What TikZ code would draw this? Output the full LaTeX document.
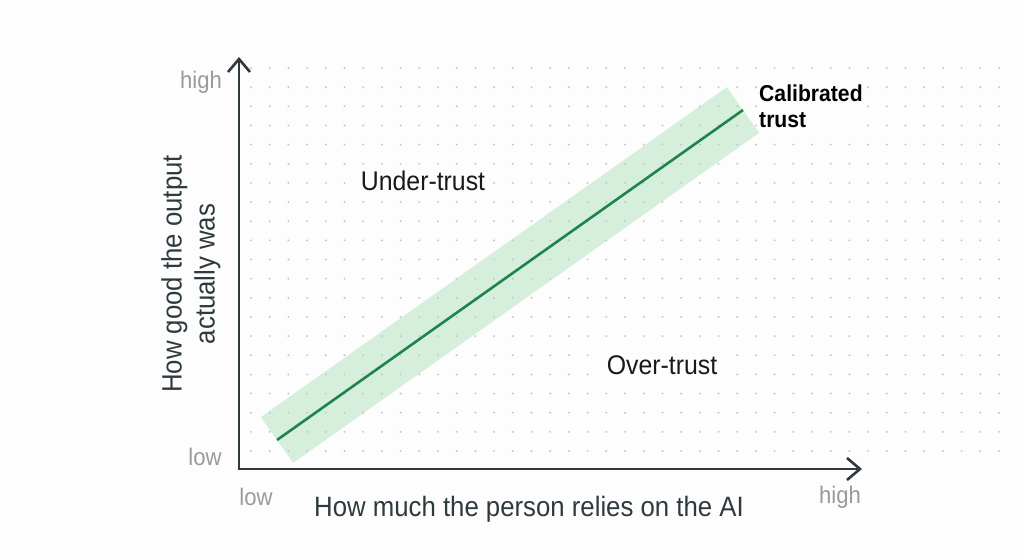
\documentclass[tikz,border=0pt]{standalone}
\usepackage{fontspec}
\setmainfont[FakeStretch=0.92]{Liberation Sans}
\usetikzlibrary{arrows.meta, calc, positioning}
\definecolor{achse}{HTML}{2F3A3F}
\definecolor{gruen}{HTML}{1E8449}
\definecolor{band}{HTML}{D6EFDD}
\definecolor{punkt}{HTML}{C4C8C8}
\definecolor{grau}{HTML}{9A9A9A}
\definecolor{bg}{HTML}{FDFDFD}

\begin{document}
\begin{tikzpicture}[x=1pt, y=-1pt,
        axis/.style={line width=2.6pt, achse, line cap=round,
                     -{Straight Barb[length=13pt, width=22pt]}},
        trend/.style={line width=2.6pt, gruen},
        tick/.style={font=\fontsize{24}{28}\selectfont, text=grau, inner sep=1pt},
        axlabel/.style={font=\fontsize{28}{33}\selectfont, text=achse, align=center},
        zone/.style={font=\fontsize{27}{32}\selectfont, text=black!90, fill=bg, inner sep=3pt},
        callout/.style={font=\fontsize{23}{26}\selectfont\bfseries, text=black, align=left,
                     fill=bg, inner sep=2pt}
      ]
      \useasboundingbox[fill=bg] (0,0) rectangle (1024,559);

      % ── Koordinaten ──
      \coordinate (O)    at (239,469);
      \coordinate (ytip) at (239,57);
      \coordinate (xtip) at (862,469);
      \coordinate (lo)   at (277,440);
      \coordinate (hi)   at (743,110);

      % ── Band um die Diagonale ──
      \fill[band] ($(lo)!28pt!90:(hi)$) -- ($(lo)!28pt!-90:(hi)$)
        -- ($(hi)!28pt!90:(lo)$) -- ($(hi)!28pt!-90:(lo)$) -- cycle;

      % ── Punktraster ──
      \foreach \i in {0,...,40}
        \foreach \j in {0,...,20}
          \fill[punkt] (251+\i*18.7, 68+\j*19.15) circle (1.1);

      % ── Achsen ──
      \draw[axis] (O) -- (ytip);
      \draw[axis] (O) -- (xtip);

      % ── Diagonale ──
      \draw[trend] (lo) -- (hi);

      % ── Beschriftungen ──
      \node[tick] (yhigh) at (201,82)  {high};
      \node[tick] (ylow)  at (205,457) {low};
      \node[tick] (xlow)  at (256,497) {low};
      \node[tick] (xhigh) at (840,497) {high};

      \node[axlabel] (xlab) at (529,509) {How much the person relies on the AI};
      \node[axlabel, rotate=90] (ylab) at (191,274) {How good the output\\actually was};

      \node[zone] (under) at (423,181) {Under-trust};
      \node[zone] (over)  at (662,365) {Over-trust};
      \node[callout, anchor=west] (calib) at (757,106) {Calibrated\\trust};
    \end{tikzpicture}
\end{document}
